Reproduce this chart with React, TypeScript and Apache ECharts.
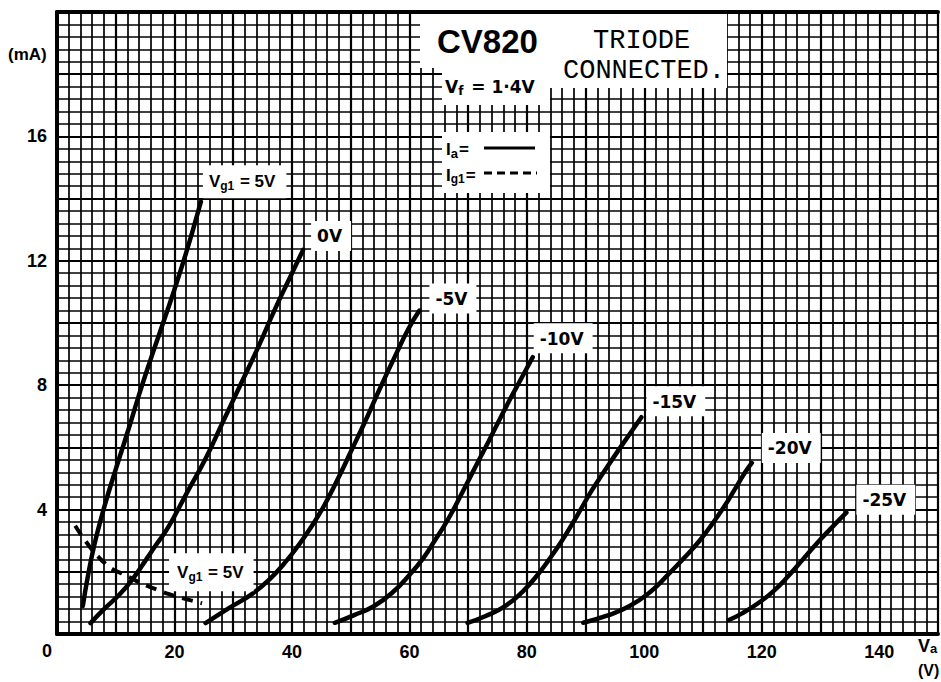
import React, { useEffect, useRef } from 'react';
import * as echarts from 'echarts';

// ---- data (anode voltage V, current mA) ----
const xTickLabels = [20, 40, 60, 80, 100, 120, 140];
const yTickLabels = [4, 8, 12, 16];

const iaVg1Plus5: [number, number][] = [
  [4.4, 0.9], [5.3, 1.9], [6.4, 2.9], [7.7, 3.85], [9.1, 4.75], [10.6, 5.65], [12.2, 6.6],
  [13.9, 7.65], [15.8, 8.75], [17.7, 9.8], [19.6, 10.85], [21.4, 11.9], [23.0, 12.9], [24.5, 13.9],
];
const iaVg1Zero: [number, number][] = [
  [5.7, 0.35], [8, 0.8], [10.8, 1.3], [13, 1.8], [15.2, 2.4], [17, 2.9], [19, 3.45], [22, 4.5],
  [25.2, 5.6], [28.2, 6.8], [31.2, 8.0], [34.2, 9.2], [37, 10.4], [39.5, 11.4], [41.9, 12.35],
];
const iaVg1Minus5: [number, number][] = [
  [25.3, 0.35], [29, 0.8], [33.3, 1.3], [36.4, 1.8], [39.1, 2.36], [41.3, 2.9], [43.3, 3.45],
  [45.4, 4.1], [47.6, 4.9], [50, 5.85], [52.5, 6.85], [55, 7.9], [57.6, 8.95], [59.8, 9.8], [61.7, 10.4],
];
const iaVg1Minus10: [number, number][] = [
  [47.3, 0.36], [50.5, 0.6], [54, 0.9], [57.2, 1.35], [60, 1.9], [62.4, 2.45], [64.3, 3.0],
  [66, 3.5], [67.5, 4.0], [69, 4.55], [70.5, 5.1], [72, 5.65], [73.5, 6.2], [75.1, 6.8],
  [77, 7.5], [79, 8.2], [81, 8.9],
];
const iaVg1Minus15: [number, number][] = [
  [69.9, 0.36], [73, 0.58], [76.3, 0.9], [79.2, 1.35], [81.6, 1.85], [83.8, 2.4], [85.8, 2.95],
  [87.6, 3.5], [89.3, 4.05], [91, 4.6], [92.9, 5.15], [95.2, 5.8], [97.4, 6.4], [99.5, 6.97],
];
const iaVg1Minus20: [number, number][] = [
  [89.6, 0.36], [93.5, 0.58], [97.5, 0.9], [101, 1.35], [104, 1.9], [106.8, 2.45], [109.4, 3.0],
  [111.6, 3.55], [113.6, 4.1], [115.4, 4.65], [117, 5.15], [118.3, 5.5],
];
const iaVg1Minus25: [number, number][] = [
  [114.4, 0.45], [116.8, 0.68], [119.3, 0.98], [122, 1.38], [124.6, 1.88], [127, 2.4],
  [129.4, 2.92], [131.9, 3.42], [134.4, 3.9],
];
const ig1Vg1Plus5: [number, number][] = [
  [3.1, 3.48], [4.2, 3.16], [5.2, 2.9], [6.1, 2.68], [7.3, 2.43], [8.5, 2.22], [9.6, 2.07],
  [11, 1.95], [12.6, 1.8], [14, 1.66], [15.7, 1.52], [17.4, 1.4], [19.1, 1.28], [20.8, 1.18],
  [22.8, 1.08], [24.7, 0.99],
];

const solidCurves = [iaVg1Plus5, iaVg1Zero, iaVg1Minus5, iaVg1Minus10, iaVg1Minus15, iaVg1Minus20, iaVg1Minus25];
const curveNames = ['Vg1 = 5V', '0V', '-5V', '-10V', '-15V', '-20V', '-25V'];

const SANS = "'Liberation Sans', Arial, sans-serif";
const LBL = "'DejaVu Sans', sans-serif";
const MONO = "'Liberation Mono', 'Courier New', monospace";

export default function App() {
  const ref = useRef<HTMLDivElement>(null);
  useEffect(() => {
    const chart = echarts.init(ref.current!, null, { renderer: 'svg' });
    const axisLabelStyle = { color: '#000', fontSize: 18, fontWeight: 'bold' as const, fontFamily: SANS };
    const series: any[] = solidCurves.map((d, i) => ({
      name: curveNames[i],
      type: 'line',
      data: d,
      smooth: 0.5,
      symbol: 'none',
      showSymbol: false,
      silent: true,
      z: 5,
      lineStyle: { color: '#000', width: 4.5, cap: 'round' },
    }));
    series.push({
      name: 'Ig1',
      type: 'line',
      data: ig1Vg1Plus5,
      smooth: 0.5,
      symbol: 'none',
      showSymbol: false,
      silent: true,
      z: 5,
      lineStyle: { color: '#000', width: 4, type: [11, 8] },
    });

    chart.setOption({
      animation: false,
      backgroundColor: '#fff',
      grid: { left: 57, top: 12, width: 886, height: 622 },
      xAxis: [
        {
          type: 'value', min: 0, max: 150, interval: 10, position: 'bottom',
          axisLine: { show: true, onZero: false, lineStyle: { color: '#000', width: 4 } },
          axisTick: { show: false },
          axisLabel: {
            ...axisLabelStyle, margin: 9,
            formatter: (v: number) => (xTickLabels.includes(v) ? String(v) : ''),
          },
          splitLine: { show: true, lineStyle: { color: '#000', width: 2.2 } },
          minorTick: { show: false, splitNumber: 5 },
          minorSplitLine: { show: true, lineStyle: { color: '#000', width: 1.7 } },
        },
        {
          type: 'value', min: 0, max: 150, position: 'top',
          axisLine: { show: true, onZero: false, lineStyle: { color: '#000', width: 4 } },
          axisTick: { show: false }, axisLabel: { show: false }, splitLine: { show: false },
        },
      ],
      yAxis: {
        type: 'value', min: 0, max: 20, interval: 2,
        axisLine: { show: true, onZero: false, lineStyle: { color: '#000', width: 4 } },
        axisTick: { show: false },
        axisLabel: {
          ...axisLabelStyle, margin: 10,
          formatter: (v: number) => (yTickLabels.includes(v) ? String(v) : ''),
        },
        splitLine: { show: true, lineStyle: { color: '#000', width: 2.2 } },
        minorTick: { show: false, splitNumber: 5 },
        minorSplitLine: { show: true, lineStyle: { color: '#000', width: 1.7 } },
      },
      series,
    });

    const px = (p: number[]) => chart.convertToPixel({ xAxisIndex: 0, yAxisIndex: 0 }, p) as number[];

    const rich = {
      m: { fontSize: 17, fontWeight: 'bold', fontFamily: LBL, color: '#000' },
      s: { fontSize: 12, fontWeight: 'bold', fontFamily: LBL, color: '#000', padding: [9, 1, 0, 0] },
    };
    const richV = {
      m: { fontSize: 17, fontWeight: 'bold', fontFamily: SANS, color: '#000' },
      s: { fontSize: 12, fontWeight: 'bold', fontFamily: SANS, color: '#000', padding: [9, 1, 0, 0] },
    };
    const labelText = (name: string) =>
      name.startsWith('Vg1') ? '{m|V}{s|g1}{m| = 5V}' : `{m|${name}}`;

    // offsets (px) of label text from curve end
    const labelOffsets: [number, number][] = [[2, -20], [8, -14], [10, -12], [1, -19], [5, -16], [10, -15], [10, -13]];

    const graphics: any[] = [];
    const box = (x: number, y: number, w: number, h: number) => ({
      type: 'rect', z: 100, shape: { x, y, width: w, height: h }, style: { fill: '#fff' }, silent: true,
    });
    const txt = (x: number, y: number, text: string, font: string, extra: any = {}) => ({
      type: 'text', z: 101, x, y, silent: true,
      style: { text, font, fill: '#000', align: 'left', verticalAlign: 'middle', ...extra },
    });

    solidCurves.forEach((d, i) => {
      const e = px(d[d.length - 1]);
      const [dx, dy] = labelOffsets[i];
      const isV = curveNames[i].startsWith('Vg1');
      graphics.push({
        type: 'text', z: 101, x: e[0] + dx, y: e[1] + dy, silent: true,
        style: {
          text: labelText(curveNames[i]), rich: isV ? richV : rich, fill: '#000', align: 'left', verticalAlign: 'middle',
          backgroundColor: '#fff', padding: isV ? [6, 11, 6, 6] : [7, 9, 6, 6],
        },
      });
    });
    {
      const e = px(ig1Vg1Plus5[ig1Vg1Plus5.length - 1]);
      graphics.push({
        type: 'text', z: 101, x: e[0] - 33, y: e[1] - 31, silent: true,
        style: {
          text: labelText('Vg1'), rich: richV, fill: '#000', align: 'left', verticalAlign: 'middle',
          backgroundColor: '#fff', padding: [9, 10, 8, 8],
        },
      });
    }

    // title boxes
    graphics.push(box(420, 14, 307, 54));
    graphics.push(box(442, 60, 108, 45));
    graphics.push(box(550, 60, 177, 28));
    graphics.push(box(442, 132, 108, 61));
    graphics.push(txt(437, 41, 'CV820', `bold 33px ${SANS}`));
    graphics.push(txt(593, 41, 'TRIODE', `27px ${MONO}`));
    graphics.push(txt(563, 71, 'CONNECTED.', `27px ${MONO}`));
    graphics.push({
      type: 'text', z: 101, x: 445, y: 87, silent: true,
      style: {
        text: '{m|V}{s|f}{m| = 1·4V}', rich: { m: { ...rich.m, fontSize: 17 }, s: { ...rich.s, fontSize: 12, padding: [8, 2, 0, 0] } },
        align: 'left', verticalAlign: 'middle',
      },
    });
    graphics.push({
      type: 'text', z: 101, x: 446, y: 149, silent: true,
      style: { text: '{m|I}{s|a}{m|=}', rich: { m: { ...richV.m, fontSize: 17 }, s: { ...richV.s, fontSize: 13, padding: [8, 1, 0, 0] } }, align: 'left', verticalAlign: 'middle' },
    });
    graphics.push({
      type: 'text', z: 101, x: 446, y: 175, silent: true,
      style: { text: '{m|I}{s|g1}{m|=}', rich: { m: { ...richV.m, fontSize: 17 }, s: { ...richV.s, fontSize: 12, padding: [8, 1, 0, 0] } }, align: 'left', verticalAlign: 'middle' },
    });
    graphics.push({ type: 'line', z: 101, silent: true, shape: { x1: 484, y1: 148, x2: 535, y2: 148 }, style: { stroke: '#000', lineWidth: 3 } });
    graphics.push({ type: 'line', z: 101, silent: true, shape: { x1: 484, y1: 173, x2: 537, y2: 173 }, style: { stroke: '#000', lineWidth: 3, lineDash: [8, 5] } });

    // axis captions
    const origin = px([0, 0]);
    graphics.push(txt(origin[0] - 15, origin[1] + 17, '0', `bold 18px ${SANS}`));
    graphics.push(txt(8, 54, '(mA)', `bold 17px ${SANS}`));
    graphics.push({
      type: 'text', z: 101, x: 918, y: 646, silent: true,
      style: { text: '{m|V}{s|a}', rich: { m: { ...richV.m, fontSize: 18 }, s: { ...richV.s, fontSize: 13, padding: [4, 0, 0, 0] } }, align: 'left', verticalAlign: 'middle' },
    });
    graphics.push(txt(918, 670, '(V)', `bold 16px ${SANS}`));

    chart.setOption({ graphic: graphics });
    return () => chart.dispose();
  }, []);
  return (
    <div
      ref={ref}
      style={{ position: 'fixed', left: 0, top: 0, width: 941, height: 682, background: '#fff' }}
    />
  );
}
